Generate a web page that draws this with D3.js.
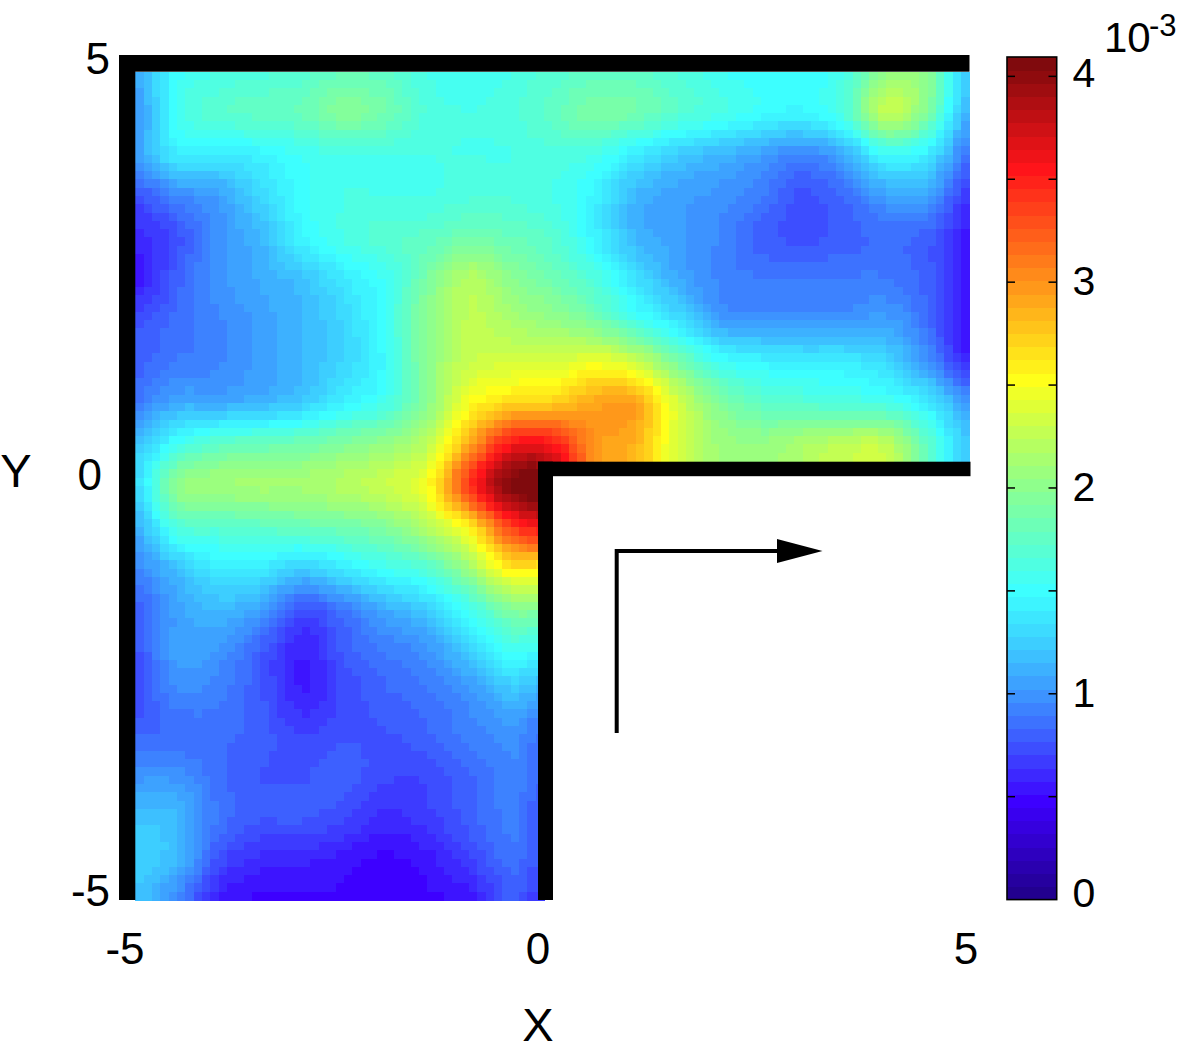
<!DOCTYPE html>
<html><head><meta charset="utf-8">
<script src="https://cdn.jsdelivr.net/npm/d3@7"></script>
<style>html,body{margin:0;padding:0;background:#fff}svg{display:block}text{font-family:"Liberation Sans",Arial,sans-serif;fill:#000}</style>
</head><body><svg id="c" width="1179" height="1058"></svg>
<script>
// Field, in units of 10^-3. Nodes every 0.5 in X and Y, top row first.
const fieldRows = [
[1.1,1.5,1.6,1.65,1.7,1.8,1.75,1.6,1.55,1.6,1.7,1.75,1.75,1.65,1.55,1.5,1.5,1.6,2.05,2.0,1.2],
[1.0,1.55,1.7,1.75,1.8,1.95,1.85,1.65,1.6,1.65,1.75,1.9,1.85,1.7,1.6,1.5,1.45,1.65,2.25,1.9,1.1],
[1.05,1.4,1.4,1.45,1.55,1.6,1.6,1.6,1.6,1.6,1.65,1.6,1.4,1.25,1.15,1.05,0.95,1.1,1.5,1.4,0.85],
[0.75,0.95,1.05,1.3,1.5,1.6,1.6,1.6,1.65,1.65,1.6,1.45,1.15,1.05,1.0,0.9,0.75,0.85,1.05,1.05,0.65],
[0.6,0.75,1.0,1.15,1.45,1.6,1.7,1.75,1.85,1.8,1.7,1.45,1.15,1.05,0.95,0.8,0.75,0.8,0.85,0.8,0.55],
[0.55,0.8,1.0,1.1,1.2,1.4,1.55,1.9,2.2,2.0,1.85,1.65,1.35,1.1,0.95,0.9,0.9,0.9,0.9,0.8,0.55],
[0.75,0.85,0.95,1.05,1.15,1.3,1.55,2.0,2.25,2.15,2.05,1.9,1.6,1.35,1.05,1.0,1.0,1.0,1.05,0.85,0.5],
[0.8,0.9,0.95,1.05,1.15,1.3,1.5,2.0,2.3,2.35,2.35,2.45,2.3,1.9,1.55,1.45,1.4,1.4,1.3,1.0,0.6],
[0.9,1.1,1.1,1.15,1.25,1.45,1.6,2.0,2.5,2.7,2.75,2.9,2.9,2.35,1.95,1.75,1.7,1.65,1.6,1.4,1.0],
[1.2,1.55,1.75,1.8,1.85,1.95,2.05,2.25,2.9,3.55,3.55,3.0,2.85,2.35,2.1,2.05,2.15,2.25,2.25,1.75,1.2],
[1.3,2.0,2.1,2.12,2.12,2.2,2.3,2.5,3.4,4.05,4.0],
[1.1,1.65,1.7,1.75,1.8,1.85,1.95,2.2,2.6,3.35,3.55],
[0.95,1.2,1.4,1.4,1.25,1.4,1.55,1.7,2.1,2.6,2.6],
[0.8,1.05,1.15,1.05,0.75,0.9,1.1,1.25,1.55,1.95,2.05],
[0.75,1.05,1.0,0.8,0.58,0.78,0.9,1.0,1.25,1.55,1.6],
[0.72,0.95,0.92,0.78,0.58,0.72,0.82,0.88,1.0,1.2,1.25],
[0.82,0.85,0.85,0.8,0.7,0.76,0.76,0.82,0.92,1.0,1.05],
[1.0,1.0,0.85,0.77,0.76,0.8,0.72,0.72,0.82,0.95,1.0],
[1.2,1.15,0.88,0.78,0.78,0.72,0.62,0.68,0.8,0.92,0.95],
[1.25,1.15,0.75,0.62,0.6,0.55,0.5,0.55,0.7,0.87,0.95],
[1.2,0.95,0.58,0.5,0.5,0.5,0.48,0.5,0.55,0.78,0.85]
];
const xTicks = [-5,0,5];
const yTicks = [5,0,-5];
const cbarLabels = [0,1,2,3,4];
const cbarTicks = [0,0.5,1,1.5,2,2.5,3,3.5,4];
const cMax = 4.094;
const nLevels = 64, nCells = 100;

const svg = d3.select("#c");
const x = d3.scaleLinear([-5,5],[135.3,969.5]);
const y = d3.scaleLinear([-5,5],[900,71.7]);
const xLabel = d3.scaleLinear([-5,0,5],[125,538,966]);
const yLabel = d3.scaleLinear([-5,0,5],[890,474,58]);
const cy = d3.scaleLinear([0,cMax],[899.6,57]);

const clamp01 = v => Math.max(0,Math.min(1,v));
const levels = d3.range(nLevels).map(i=>{
  const t=(i+1)/nLevels;
  const r=clamp01(1.5-Math.abs(4*t-3)),g=clamp01(1.5-Math.abs(4*t-2)),b=clamp01(1.5-Math.abs(4*t-1));
  // the reference palette is a slightly washed jet
  const r2=r+(1-r)*0.24*b, g2=g+0.3*g*(1-g)*b+(1-g)*0.08*r, b2=b+(1-b)*(0.1*r+0.1*g*(1-r));
  return d3.rgb(255*r2,255*g2,255*b2).formatHex();
});
const color = d3.scaleQuantize([0,cMax],levels);

// smooth display resampling of the read nodes onto the picture's cell mesh
const nRows=fieldRows.length,nCols=fieldRows[0].length;
const node=(j,i)=>{
  j=Math.max(0,Math.min(nRows-1,j)); i=Math.max(0,Math.min(nCols-1,i));
  const r=fieldRows[j];
  return i<r.length?r[i]:fieldRows[9][i];
};
const cr=(a,b,c,d,t)=>0.5*(2*b+(c-a)*t+(2*a-5*b+4*c-d)*t*t+(3*b-a-3*c+d)*t*t*t);
function sample(u,v){
  const i=Math.min(nCols-2,Math.floor(u)),j=Math.min(nRows-2,Math.floor(v)),s=u-i,t=v-j;
  const rows=[-1,0,1,2].map(dj=>cr(node(j+dj,i-1),node(j+dj,i),node(j+dj,i+1),node(j+dj,i+2),s));
  return cr(rows[0],rows[1],rows[2],rows[3],t);
}
const cells=[];
const band=d3.range(nCells);
const bx=d3.scaleBand(band,[x(-5),x(5)]),by=d3.scaleBand(band,[y(5),y(-5)]);
band.forEach(r=>band.forEach(c=>{
  const px=bx(c)+bx.bandwidth()/2,py=by(r)+by.bandwidth()/2;
  if(px>546&&py>469) return;
  cells.push({c,r,v:sample((c+0.5)/nCells*(nCols-1),(r+0.5)/nCells*(nRows-1))});
}));
svg.append("g").attr("shape-rendering","crispEdges").selectAll("rect").data(cells).join("rect")
  .attr("x",d=>bx(d.c)).attr("y",d=>by(d.r)).attr("width",bx.bandwidth()+0.6).attr("height",by.bandwidth()+0.6)
  .attr("fill",d=>color(d.v));

// walls
const walls=[[119,55,16.3,845],[119,55,850.5,16.7],[538,461.7,432.5,14.5],[538,461.7,15,438.3]];
svg.append("g").selectAll("rect").data(walls).join("rect")
  .attr("x",d=>d[0]).attr("y",d=>d[1]).attr("width",d=>d[2]).attr("height",d=>d[3]).attr("fill","#000");

// flow arrow
svg.append("path").attr("d","M616.7,733V549M615,551H780").attr("fill","none").attr("stroke","#000").attr("stroke-width",4);
svg.append("path").attr("d","M777,539L822.5,551L777,563Z").attr("fill","#000");

// axis labels
const fs=44;
const lab=(s,px,py,a="middle",size=fs)=>svg.append("text").attr("x",px).attr("y",py).attr("text-anchor",a).attr("font-size",size).attr("dominant-baseline","central").text(s);
xTicks.forEach(t=>lab(t,xLabel(t),948));
yTicks.forEach(t=>lab(t,t===0?102:110,yLabel(t),"end"));
lab("X",538,1024,"middle",47);
lab("Y",16,470,"middle",47);

// colour bar
const bw=cy(0)-cy(cMax), step=bw/nLevels;
svg.append("g").attr("shape-rendering","crispEdges").selectAll("rect").data(levels).join("rect")
  .attr("x",1007).attr("width",49.7).attr("y",(d,i)=>cy(0)-(i+1)*step).attr("height",step+0.6).attr("fill",d=>d);
svg.append("rect").attr("x",1007).attr("y",cy(cMax)).attr("width",49.7).attr("height",bw).attr("fill","none").attr("stroke","#000").attr("stroke-width",1.6);
const tg=svg.append("g").attr("stroke","#000").attr("stroke-width",1.5);
cbarTicks.filter(t=>t>0).forEach(t=>{
  tg.append("line").attr("x1",1007).attr("x2",1015).attr("y1",cy(t)).attr("y2",cy(t));
  tg.append("line").attr("x1",1048.5).attr("x2",1056.7).attr("y1",cy(t)).attr("y2",cy(t));
});
cbarLabels.forEach(t=>lab(t,1084,t===4?73:t===0?893:cy(t)-1,"middle",41));
svg.append("text").attr("x",1104).attr("y",52).attr("font-size",42).text("10");
svg.append("text").attr("x",1149).attr("y",36).attr("font-size",31).text("-3");
</script></body></html>
